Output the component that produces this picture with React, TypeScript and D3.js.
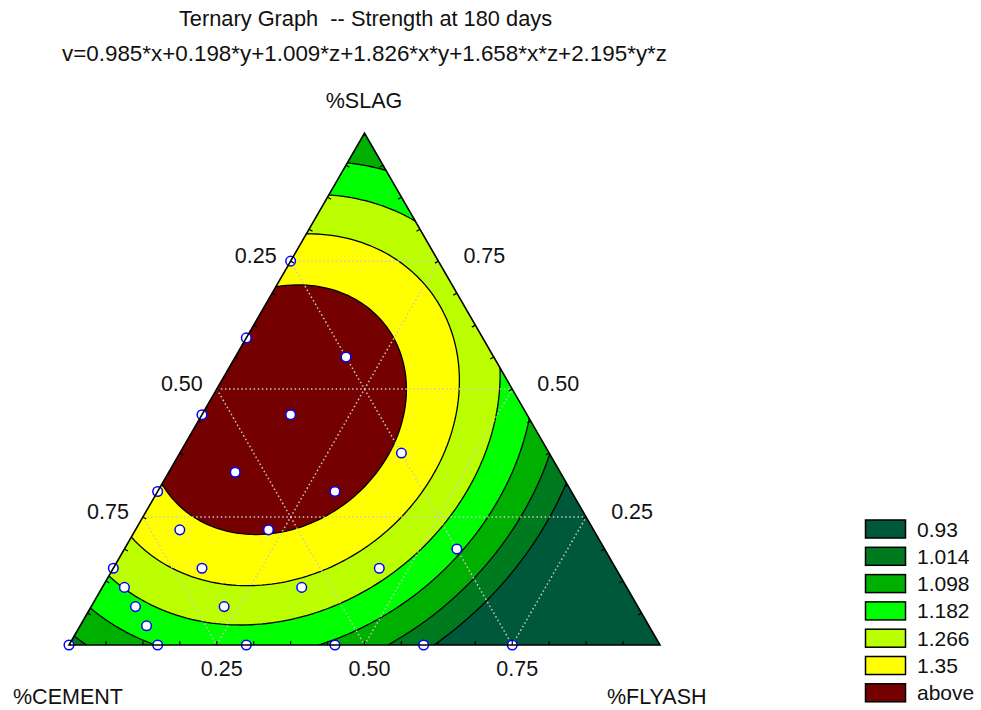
import React, { useMemo } from 'react';
import * as d3 from 'd3';

// Fitted mixture model: x = cement, y = flyash, z = slag
const titleText = 'Ternary Graph  -- Strength at 180 days';
const termNames = ['x', 'y', 'z', 'x*y', 'x*z', 'y*z'];
const coefficients = [0.985, 0.198, 1.009, 1.826, 1.658, 2.195];

// Contour levels and legend
const levels = [0.93, 1.014, 1.098, 1.182, 1.266, 1.35];
const legendLabels = ['0.93', '1.014', '1.098', '1.182', '1.266', '1.35', 'above'];
const bandColors = ['#00583a', '#007a1e', '#00b000', '#00ff00', '#bbff00', '#ffff00', '#750000'];

// Axis ticks
const gridValues = [0.25, 0.5, 0.75];
const gridLabels = ['0.25', '0.50', '0.75'];
const axisTitles = ['%SLAG', '%CEMENT', '%FLYASH'];

// Design points (slag and flyash fractions; cement is the remainder)
const pointSlag = [
  0.75, 0.6, 0.45, 0.3, 0.15, 0,
  0, 0, 0, 0, 0,
  0.1125, 0.075, 0.0375,
  0.5625, 0.375, 0.1875,
  0.45, 0.3375, 0.3, 0.225, 0.225, 0.15, 0.15, 0.075, 0.1125,
];
const pointFlyash = [
  0, 0, 0, 0, 0, 0,
  0.15, 0.3, 0.45, 0.6, 0.75,
  0.0375, 0.075, 0.1125,
  0.1875, 0.375, 0.5625,
  0.15, 0.1125, 0.3, 0.075, 0.225, 0.15, 0.45, 0.225, 0.3375,
];

const W = 981;
const H = 710;
const FONT = '"Liberation Sans", Arial, sans-serif';

function model(c: number, f: number, s: number) {
  const [a, b, d, ab, ad, bd] = coefficients;
  return a * c + b * f + d * s + ab * c * f + ad * c * s + bd * f * s;
}

export default function App() {
  const X0 = 69;
  const X1 = 660;
  const YB = 645;
  const YT = YB - (X1 - X0) * Math.sqrt(3) / 2;

  // horizontal position of (flyash + slag/2), vertical position of slag
  const hx = d3.scaleLinear().domain([0, 1]).range([X0, X1]);
  const vy = d3.scaleLinear().domain([0, 1]).range([YB, YT]);
  const proj = (s: number, f: number): [number, number] => [hx(f + s / 2), vy(s)];

  const corners = [proj(0, 0), proj(0, 1), proj(1, 0)];
  const triPath = 'M' + corners.map((p) => p.join(',')).join('L') + 'Z';

  const contourData = useMemo(() => {
    const step = 5;
    const gx0 = X0 - 15;
    const gy0 = YT - 15;
    const nx = Math.ceil((X1 - X0 + 30) / step);
    const ny = Math.ceil((YB - YT + 30) / step);
    const values = new Array(nx * ny);
    for (let j = 0; j < ny; j++) {
      for (let i = 0; i < nx; i++) {
        const px = gx0 + (i + 0.5) * step;
        const py = gy0 + (j + 0.5) * step;
        const s = vy.invert(py);
        const f = hx.invert(px) - s / 2;
        const c = 1 - s - f;
        values[j * nx + i] = model(c, f, s);
      }
    }
    const gen = d3.contours().size([nx, ny]).thresholds(levels);
    const polys = gen(values);
    const path = d3.geoPath(d3.geoIdentity().scale(step).translate([gx0, gy0]) as any);
    return polys.map((p) => path(p as any) || '');
  }, []);

  const formula =
    'v=' + coefficients.map((c, i) => c.toFixed(3) + '*' + termNames[i]).join('+');

  // dotted composition grid lines
  const gridLines: [number, number][][] = [];
  gridValues.forEach((k) => {
    gridLines.push([proj(k, 0), proj(k, 1 - k)]); // slag = k
    gridLines.push([proj(0, k), proj(1 - k, k)]); // flyash = k
    gridLines.push([proj(1 - k, 0), proj(0, 1 - k)]); // cement = k
  });

  // tick marks every 1/16 along each edge, pointing inward
  const ticks: string[] = [];
  for (let k = 1; k < 16; k++) {
    const t = k / 16;
    const len = 4;
    const b = proj(0, t);
    ticks.push(`M${b[0]},${b[1]}L${b[0]},${b[1] - len}`);
    const l = proj(t, 0);
    ticks.push(`M${l[0]},${l[1]}L${l[0] + len * 0.866},${l[1] + len * 0.5}`);
    const r = proj(t, 1 - t);
    ticks.push(`M${r[0]},${r[1]}L${r[0] - len * 0.866},${r[1] + len * 0.5}`);
  }

  const labelSize = 21.5;

  return (
    <svg
      width={W}
      height={H}
      style={{ position: 'absolute', left: 0, top: 0, background: '#fff' }}
      fontFamily={FONT}
    >
      <defs>
        <clipPath id="tri-clip">
          <path d={triPath} />
        </clipPath>
      </defs>

      <text x={365.5} y={26} textAnchor="middle" fontSize={21.8} fill="#111" style={{ whiteSpace: 'pre' }}>
        {titleText}
      </text>
      <text x={364.5} y={61} textAnchor="middle" fontSize={22.4} fill="#111">
        {formula}
      </text>

      <g clipPath="url(#tri-clip)">
        <path d={triPath} fill={bandColors[0]} />
        {contourData.map((d, i) => (
          <path key={'f' + i} d={d} fill={bandColors[i + 1]} />
        ))}
        {contourData.map((d, i) => (
          <path key={'l' + i} d={d} fill="none" stroke="#000" strokeWidth={1.3} />
        ))}
        {gridLines.map((seg, i) => (
          <line
            key={'g' + i}
            x1={seg[0][0]}
            y1={seg[0][1]}
            x2={seg[1][0]}
            y2={seg[1][1]}
            stroke="#c8c8c8"
            strokeWidth={1.5}
            strokeDasharray="1.5,2.6"
          />
        ))}
      </g>

      {pointSlag.map((s, i) => {
        const [px, py] = proj(s, pointFlyash[i]);
        return (
          <circle key={'p' + i} cx={px} cy={py} r={4.8} fill="#fff" stroke="#0000ff" strokeWidth={1.5} />
        );
      })}

      <path d={triPath} fill="none" stroke="#000" strokeWidth={1.6} />
      <path d={ticks.join('')} stroke="#000" strokeWidth={1.2} fill="none" />

      {gridValues.map((k, i) => {
        const s = 1 - k;
        const [ex, ey] = proj(s, 0);
        return (
          <text key={'lc' + i} x={ex - 14} y={ey + 2} textAnchor="end" fontSize={labelSize} fill="#111">
            {gridLabels[i]}
          </text>
        );
      })}
      {gridValues.map((k, i) => {
        const [ex, ey] = proj(k, 1 - k);
        return (
          <text key={'ls' + i} x={ex + 25} y={ey + 2} textAnchor="start" fontSize={labelSize} fill="#111">
            {gridLabels[i]}
          </text>
        );
      })}
      {gridValues.map((k, i) => {
        const [ex] = proj(0, k);
        return (
          <text key={'lf' + i} x={ex + 5} y={676} textAnchor="middle" fontSize={labelSize} fill="#111">
            {gridLabels[i]}
          </text>
        );
      })}

      <text x={364} y={108} textAnchor="middle" fontSize={labelSize} fill="#111">
        {axisTitles[0]}
      </text>
      <text x={13} y={704} textAnchor="start" fontSize={labelSize} fill="#111">
        {axisTitles[1]}
      </text>
      <text x={607} y={704} textAnchor="start" fontSize={labelSize} fill="#111">
        {axisTitles[2]}
      </text>

      {legendLabels.map((lab, i) => {
        const y = 520 + i * 27.3;
        return (
          <g key={'lg' + i}>
            <rect x={865.5} y={y} width={40} height={18} fill={bandColors[i]} stroke="#000" strokeWidth={1.5} />
            <text x={917} y={y + 16.5} fontSize={21} fill="#111">
              {lab}
            </text>
          </g>
        );
      })}
    </svg>
  );
}
